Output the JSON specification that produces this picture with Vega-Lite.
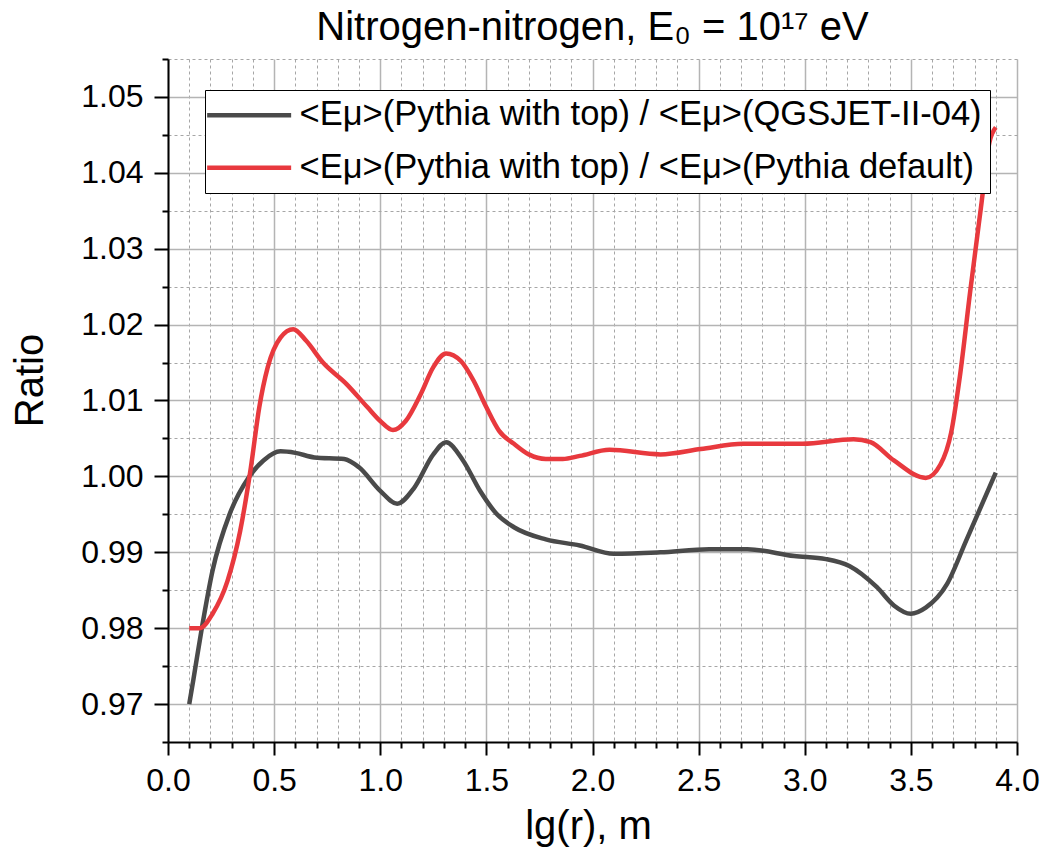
{
  "$schema": "https://vega.github.io/schema/vega-lite/v6.json",
  "width": 849,
  "height": 683,
  "autosize": "none",
  "padding": {"left": 168, "top": 59, "right": 29, "bottom": 119},
  "background": "white",
  "config": {"font": "Liberation Sans", "view": {"stroke": null}},
  "title": {"text": "Nitrogen-nitrogen, E₀ = 10¹⁷ eV", "fontSize": 40, "fontWeight": "normal", "font": "Liberation Sans", "color": "black", "anchor": "middle", "baseline": "alphabetic", "offset": -22, "frame": "group"},
  "data": {"values": [
    {"series": "A", "x": 0.1, "ratio": 0.9700},
    {"series": "A", "x": 0.12, "ratio": 0.9733},
    {"series": "A", "x": 0.16, "ratio": 0.9801},
    {"series": "A", "x": 0.21, "ratio": 0.9876},
    {"series": "A", "x": 0.29, "ratio": 0.9950},
    {"series": "A", "x": 0.38, "ratio": 0.99985},
    {"series": "A", "x": 0.45, "ratio": 1.0021},
    {"series": "A", "x": 0.53, "ratio": 1.0033},
    {"series": "A", "x": 0.6, "ratio": 1.0031},
    {"series": "A", "x": 0.69, "ratio": 1.0025},
    {"series": "A", "x": 0.83, "ratio": 1.0023},
    {"series": "A", "x": 0.9, "ratio": 1.0012},
    {"series": "A", "x": 1.0, "ratio": 0.9981},
    {"series": "A", "x": 1.08, "ratio": 0.9964},
    {"series": "A", "x": 1.16, "ratio": 0.9985},
    {"series": "A", "x": 1.25, "ratio": 1.0029},
    {"series": "A", "x": 1.31, "ratio": 1.0045},
    {"series": "A", "x": 1.39, "ratio": 1.0021},
    {"series": "A", "x": 1.47, "ratio": 0.9981},
    {"series": "A", "x": 1.55, "ratio": 0.9950},
    {"series": "A", "x": 1.63, "ratio": 0.9933},
    {"series": "A", "x": 1.78, "ratio": 0.9917},
    {"series": "A", "x": 1.94, "ratio": 0.9909},
    {"series": "A", "x": 2.1, "ratio": 0.9898},
    {"series": "A", "x": 2.32, "ratio": 0.9900},
    {"series": "A", "x": 2.55, "ratio": 0.9904},
    {"series": "A", "x": 2.73, "ratio": 0.9904},
    {"series": "A", "x": 2.95, "ratio": 0.9895},
    {"series": "A", "x": 3.1, "ratio": 0.9891},
    {"series": "A", "x": 3.21, "ratio": 0.9882},
    {"series": "A", "x": 3.34, "ratio": 0.9854},
    {"series": "A", "x": 3.42, "ratio": 0.9830},
    {"series": "A", "x": 3.5, "ratio": 0.9819},
    {"series": "A", "x": 3.57, "ratio": 0.9827},
    {"series": "A", "x": 3.67, "ratio": 0.9858},
    {"series": "A", "x": 3.76, "ratio": 0.9915},
    {"series": "A", "x": 3.9, "ratio": 1.0005},
    {"series": "B", "x": 0.1, "ratio": 0.9800},
    {"series": "B", "x": 0.15, "ratio": 0.9800},
    {"series": "B", "x": 0.21, "ratio": 0.9819},
    {"series": "B", "x": 0.28, "ratio": 0.9862},
    {"series": "B", "x": 0.34, "ratio": 0.9928},
    {"series": "B", "x": 0.39, "ratio": 1.0011},
    {"series": "B", "x": 0.43, "ratio": 1.0091},
    {"series": "B", "x": 0.47, "ratio": 1.0144},
    {"series": "B", "x": 0.53, "ratio": 1.0183},
    {"series": "B", "x": 0.59, "ratio": 1.0194},
    {"series": "B", "x": 0.65, "ratio": 1.0179},
    {"series": "B", "x": 0.73, "ratio": 1.0150},
    {"series": "B", "x": 0.84, "ratio": 1.0122},
    {"series": "B", "x": 0.94, "ratio": 1.0091},
    {"series": "B", "x": 1.0, "ratio": 1.0073},
    {"series": "B", "x": 1.06, "ratio": 1.0061},
    {"series": "B", "x": 1.12, "ratio": 1.0073},
    {"series": "B", "x": 1.19, "ratio": 1.0108},
    {"series": "B", "x": 1.25, "ratio": 1.0144},
    {"series": "B", "x": 1.31, "ratio": 1.0162},
    {"series": "B", "x": 1.38, "ratio": 1.0152},
    {"series": "B", "x": 1.44, "ratio": 1.0126},
    {"series": "B", "x": 1.5, "ratio": 1.0091},
    {"series": "B", "x": 1.56, "ratio": 1.0060},
    {"series": "B", "x": 1.63, "ratio": 1.0043},
    {"series": "B", "x": 1.7, "ratio": 1.0029},
    {"series": "B", "x": 1.78, "ratio": 1.0023},
    {"series": "B", "x": 1.86, "ratio": 1.0023},
    {"series": "B", "x": 1.94, "ratio": 1.0027},
    {"series": "B", "x": 2.08, "ratio": 1.0035},
    {"series": "B", "x": 2.32, "ratio": 1.0029},
    {"series": "B", "x": 2.51, "ratio": 1.0036},
    {"series": "B", "x": 2.71, "ratio": 1.0043},
    {"series": "B", "x": 2.99, "ratio": 1.0043},
    {"series": "B", "x": 3.23, "ratio": 1.0049},
    {"series": "B", "x": 3.31, "ratio": 1.0045},
    {"series": "B", "x": 3.42, "ratio": 1.0021},
    {"series": "B", "x": 3.57, "ratio": 0.9998},
    {"series": "B", "x": 3.64, "ratio": 1.0016},
    {"series": "B", "x": 3.69, "ratio": 1.0058},
    {"series": "B", "x": 3.73, "ratio": 1.0130},
    {"series": "B", "x": 3.78, "ratio": 1.0245},
    {"series": "B", "x": 3.83, "ratio": 1.0354},
    {"series": "B", "x": 3.87, "ratio": 1.0440},
    {"series": "B", "x": 3.9, "ratio": 1.0460}
  ]},
  "transform": [
    {"lookup": "series", "from": {"data": {"values": [
      {"series": "A", "label": "<Eμ>(Pythia with top) / <Eμ>(QGSJET-II-04)"},
      {"series": "B", "label": "<Eμ>(Pythia with top) / <Eμ>(Pythia default)"}
    ]}, "key": "series", "fields": ["label"]}}
  ],
  "resolve": {"axis": {"x": "independent", "y": "independent"}},
  "layer": [
    {
      "mark": {"type": "line", "opacity": 0},
      "encoding": {
        "x": {"field": "x", "type": "quantitative", "scale": {"domain": [0, 4], "nice": false, "zero": false},
          "axis": {"orient": "bottom", "values": [0.1,0.2,0.3,0.4,0.6,0.7,0.8,0.9,1.1,1.2,1.3,1.4,1.6,1.7,1.8,1.9,2.1,2.2,2.3,2.4,2.6,2.7,2.8,2.9,3.1,3.2,3.3,3.4,3.6,3.7,3.8,3.9],
            "labels": false, "title": null, "domain": false, "ticks": true, "tickSize": 6, "tickWidth": 2, "tickColor": "black",
            "grid": true, "gridDash": [3, 3], "gridColor": "#a6a6a6", "gridWidth": 1}},
        "y": {"field": "ratio", "type": "quantitative", "scale": {"domain": [0.965, 1.055], "nice": false, "zero": false},
          "axis": {"orient": "left", "values": [0.965,0.975,0.985,0.995,1.005,1.015,1.025,1.035,1.045,1.055],
            "labels": false, "title": null, "domain": false, "ticks": true, "tickSize": 6, "tickWidth": 2, "tickColor": "black",
            "grid": true, "gridDash": [3, 3], "gridColor": "#a6a6a6", "gridWidth": 1}},
        "detail": {"field": "series"}
      }
    },
    {
      "mark": {"type": "line", "strokeWidth": 4.5, "interpolate": "monotone"},
      "encoding": {
        "x": {"field": "x", "type": "quantitative",
          "axis": {"orient": "bottom", "values": [0,0.5,1,1.5,2,2.5,3,3.5,4], "format": ".1f",
            "labelFontSize": 32, "labelColor": "black", "labelPadding": 10, "labelFlush": false, "labelOverlap": false,
            "domain": true, "domainColor": "black", "domainWidth": 2,
            "tickSize": 13, "tickWidth": 2, "tickColor": "black",
            "grid": true, "gridColor": "#b4b4b4", "gridWidth": 1.5,
            "title": "lg(r), m", "titleFontSize": 40, "titleFontWeight": "normal", "titleColor": "black",
            "titleX": 420, "titleY": 96, "titleBaseline": "alphabetic", "titleAlign": "center"}},
        "y": {"field": "ratio", "type": "quantitative",
          "axis": {"orient": "left", "values": [0.97,0.98,0.99,1.0,1.01,1.02,1.03,1.04,1.05], "format": ".2f",
            "labelFontSize": 32, "labelColor": "black", "labelPadding": 11, "labelFlush": false, "labelOverlap": false,
            "domain": true, "domainColor": "black", "domainWidth": 2,
            "tickSize": 14, "tickWidth": 2, "tickColor": "black",
            "grid": true, "gridColor": "#b4b4b4", "gridWidth": 1.5,
            "title": "Ratio", "titleFontSize": 40, "titleFontWeight": "normal", "titleColor": "black",
            "titleX": -126, "titleY": 321, "titleAngle": -90, "titleBaseline": "alphabetic", "titleAlign": "center"}},
        "color": {"field": "label", "type": "nominal",
          "scale": {"domain": ["<Eμ>(Pythia with top) / <Eμ>(QGSJET-II-04)", "<Eμ>(Pythia with top) / <Eμ>(Pythia default)"], "range": ["#4a4a4a", "#e8393e"]},
          "legend": {"orient": "none", "legendX": 37, "legendY": 31, "title": null,
            "padding": 8, "strokeColor": "black", "fillColor": "white",
            "symbolType": "M-1.65,0H4.35", "symbolSize": 784, "symbolStrokeWidth": 4.5,
            "labelFontSize": 34.5, "labelColor": "black", "labelLimit": 1000, "labelOffset": 52, "rowPadding": 17.5}}
      }
    }
  ]
}
